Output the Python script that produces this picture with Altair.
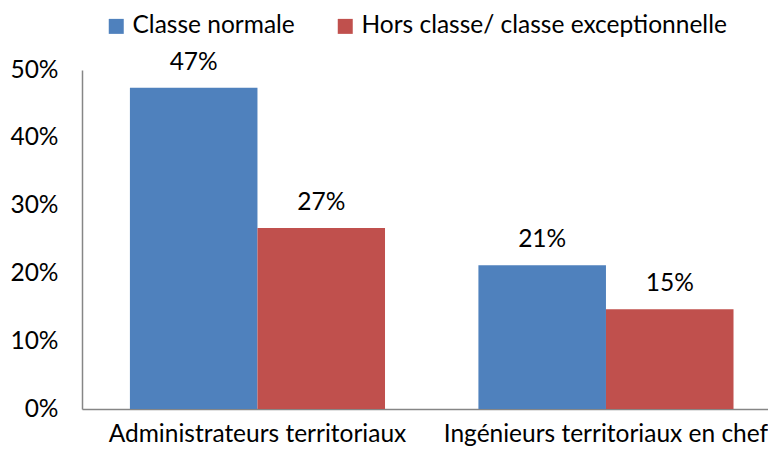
import altair as alt
import pandas as pd

categories = ["Administrateurs territoriaux", "Ingénieurs territoriaux en chef"]
series = ["Classe normale", "Hors classe/ classe exceptionnelle"]
classe_normale = [0.474, 0.212]
hors_classe = [0.267, 0.147]
colors = ["#4F81BD", "#C0504D"]

rows = []
for i, c in enumerate(categories):
    rows.append({"cat": c, "serie": series[0], "val": classe_normale[i]})
    rows.append({"cat": c, "serie": series[1], "val": hors_classe[i]})
df = pd.DataFrame(rows)

FONT = "Lato"
FS = 24.5

x_enc = alt.X("cat:N", sort=categories, title=None,
              scale=alt.Scale(paddingInner=0.268, paddingOuter=0.1297, align=0.53),
              axis=alt.Axis(labelAngle=0, ticks=False, labelPadding=13, labelLimit=0,
                            domainColor="#868686", domainWidth=1.5,
                            labelFont=FONT, labelFontSize=FS, labelColor="#000000"))
xo_enc = alt.XOffset("serie:N", sort=series, scale=alt.Scale(paddingInner=0, paddingOuter=0))
y_enc = alt.Y("val:Q", title=None,
              scale=alt.Scale(domain=[0, 0.5], nice=False),
              axis=alt.Axis(values=[0, 0.1, 0.2, 0.3, 0.4, 0.5], format=".0%",
                            ticks=False, grid=False, labelPadding=24, labelLimit=0,
                            domainColor="#868686", domainWidth=1.5,
                            labelFont=FONT, labelFontSize=FS, labelColor="#000000"))

base = alt.Chart(df)

bars = base.mark_bar().encode(
    x=x_enc, xOffset=xo_enc, y=y_enc,
    color=alt.Color("serie:N", sort=series,
                    scale=alt.Scale(domain=series, range=colors),
                    legend=alt.Legend(title=None, orient="none", direction="horizontal",
                                      legendX=22, legendY=-56,
                                      symbolType="square", symbolSize=225,
                                      symbolStrokeWidth=0, labelOffset=4,
                                      columnPadding=38, labelLimit=0,
                                      labelFont=FONT, labelFontSize=FS,
                                      labelColor="#000000"))
)

labels = base.mark_text(font=FONT, fontSize=FS, color="#000000",
                        baseline="alphabetic", dy=-18).encode(
    x=alt.X("cat:N", sort=categories), xOffset=alt.XOffset("serie:N", sort=series),
    y="val:Q", text=alt.Text("val:Q", format=".0%")
)

chart = (bars + labels).properties(
    width=694, height=339,
    autosize=alt.AutoSizeParams(type="none"),
    padding={"left": 74, "top": 62, "right": -8, "bottom": 39},
).configure_view(stroke=None)

chart.save("out.html", embed_options={"renderer": "svg", "actions": False})
